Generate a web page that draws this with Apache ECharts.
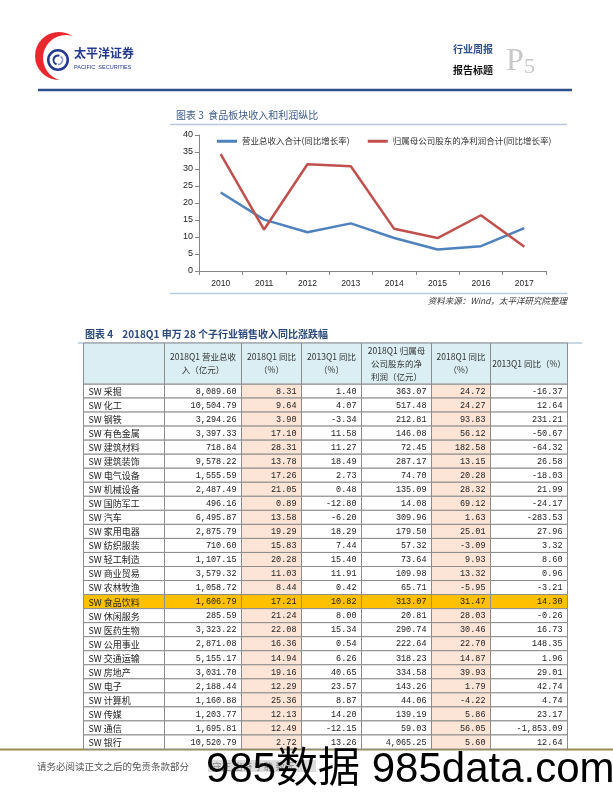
<!DOCTYPE html>
<html><head><meta charset="utf-8">
<script src="https://cdn.jsdelivr.net/npm/echarts@6/dist/echarts.min.js"></script>
<style>html,body{margin:0;padding:0;background:#fff}#c{width:613px;height:793px}</style>
</head><body><div id="c"></div><script>
// ---- line chart data ----
const years = ['2010','2011','2012','2013','2014','2015','2016','2017'];
const revenueGrowth = [23.1, 15.1, 11.4, 14.0, 9.7, 6.3, 7.3, 12.6];
const profitGrowth = [34.4, 12.2, 31.4, 30.8, 12.4, 9.7, 16.4, 7.1];
const lineNames = ['营业总收入合计(同比增长率)', '归属母公司股东的净利润合计(同比增长率)'];

// ---- table data ----
const headerLabels = ['', '2018Q1 营业总收\n入（亿元）', '2018Q1 同比\n（%）', '2013Q1 同比\n（%）', '2018Q1 归属母\n公司股东的净\n利润（亿元）', '2018Q1 同比\n（%）', '2013Q1 同比（%）'];
const industries = ['SW 采掘','SW 化工','SW 钢铁','SW 有色金属','SW 建筑材料','SW 建筑装饰','SW 电气设备','SW 机械设备','SW 国防军工','SW 汽车','SW 家用电器','SW 纺织服装','SW 轻工制造','SW 商业贸易','SW 农林牧渔','SW 食品饮料','SW 休闲服务','SW 医药生物','SW 公用事业','SW 交通运输','SW 房地产','SW 电子','SW 计算机','SW 传媒','SW 通信','SW 银行'];
const revenue18 = [8089.60, 10504.79, 3294.26, 3397.33, 718.84, 9578.22, 1555.59, 2487.49, 496.16, 6495.87, 2875.79, 710.60, 1107.15, 3579.32, 1058.72, 1606.79, 285.59, 3323.22, 2871.08, 5155.17, 3031.70, 2188.44, 1160.88, 1203.77, 1695.81, 10520.79];
const revenueYoY18 = [8.31, 9.64, 3.90, 17.10, 28.31, 13.78, 17.26, 21.05, 0.89, 13.58, 19.29, 15.83, 20.28, 11.03, 8.44, 17.21, 21.24, 22.08, 16.36, 14.94, 19.16, 12.29, 25.36, 12.13, 12.49, 2.72];
const revenueYoY13 = [1.40, 4.07, -3.34, 11.58, 11.27, 18.49, 2.73, 0.48, -12.80, -6.20, 18.29, 7.44, 15.40, 11.91, 0.42, 10.82, 8.00, 15.34, 0.54, 6.26, 40.65, 23.57, 8.87, 14.20, -12.15, 13.26];
const netProfit18 = [363.07, 517.48, 212.81, 146.08, 72.45, 287.17, 74.70, 135.09, 14.08, 309.96, 179.50, 57.32, 73.64, 109.98, 65.71, 313.07, 20.81, 290.74, 222.64, 318.23, 334.58, 143.26, 44.06, 139.19, 59.03, 4065.25];
const profitYoY18 = [24.72, 24.27, 93.83, 56.12, 182.58, 13.15, 20.28, 28.32, 69.12, 1.63, 25.01, -3.09, 9.93, 13.32, -5.95, 31.47, 28.03, 30.46, 22.70, 14.87, 39.93, 1.79, -4.22, 5.86, 56.05, 5.60];
const profitYoY13 = [-16.37, 12.64, 231.21, -50.67, -64.32, 26.58, -18.03, 21.99, -24.17, -283.53, 27.96, 3.32, 8.60, 0.96, -3.21, 14.30, -0.26, 16.73, 148.35, 1.96, 29.01, 42.74, 4.74, 23.17, -1853.09, 12.64];
const highlightRow = 'SW 食品饮料';

// ---- layout ----
const colWidths = [81, 77, 60, 60, 70, 59, 77];
const colStarts = colWidths.reduce((a, w, i) => { a.push(i === 0 ? 0 : a[i-1] + colWidths[i-1]); return a; }, []);
const tableWidth = colWidths.reduce((s, w) => s + w, 0);
const columns = [industries, revenue18, revenueYoY18, revenueYoY13, netProfit18, profitYoY18, profitYoY13];
const fmt = v => v.toLocaleString('en-US', {minimumFractionDigits: 2, maximumFractionDigits: 2});
const hiIdx = industries.indexOf(highlightRow);
const CJK = "'Noto Sans CJK SC'";

const bodyData = [];
industries.forEach((n, r) => colWidths.forEach((w, c) => bodyData.push([c, r])));
const headData = headerLabels.map((t, c) => [c, 0]);

function txt(text, x, y, opt) {
  opt = opt || {};
  return { type: 'text', x: x, y: y, z: opt.z || 10,
    style: { text: text, fill: opt.fill || '#333', font: opt.font || ('10px ' + CJK),
      align: opt.align || 'left', textAlign: opt.align || 'left',
      verticalAlign: opt.va || 'middle', textVerticalAlign: opt.va || 'middle' } };
}

const chart = echarts.init(document.getElementById('c'), null, {renderer: 'canvas'});
chart.setOption({
  animation: false,
  backgroundColor: '#fff',
  grid: [
    { left: 199, right: 67, top: 135, bottom: 522 },
    { left: 83.5, top: 384, width: tableWidth, height: 365 },
    { left: 83.5, top: 343, width: tableWidth, height: 41 }
  ],
  legend: {
    data: lineNames, left: 212, top: 132, icon: 'rect', itemWidth: 20, itemHeight: 3, itemGap: 18,
    textStyle: { fontSize: 8.5, fontFamily: CJK, color: '#333' }
  },
  xAxis: [
    { gridIndex: 0, type: 'category', data: years, boundaryGap: true,
      axisLine: { lineStyle: { color: '#868686' } },
      axisTick: { show: true, length: 4, interval: 0, lineStyle: { color: '#868686' } },
      axisLabel: { fontSize: 8.5, fontFamily: 'Liberation Sans', color: '#222', margin: 8 } },
    { gridIndex: 1, type: 'value', min: 0, max: tableWidth, show: false },
    { gridIndex: 2, type: 'value', min: 0, max: tableWidth, show: false }
  ],
  yAxis: [
    { gridIndex: 0, type: 'value', min: 0, max: 40, interval: 5,
      axisLine: { show: true, lineStyle: { color: '#868686' } },
      axisTick: { show: true, length: 4, lineStyle: { color: '#868686' } },
      splitLine: { show: false },
      axisLabel: { fontSize: 9, fontFamily: 'Liberation Sans', color: '#222', margin: 6 } },
    { gridIndex: 1, type: 'category', data: industries, inverse: true, show: false },
    { gridIndex: 2, type: 'category', data: ['header'], show: false }
  ],
  series: [
    { name: lineNames[0], type: 'line', xAxisIndex: 0, yAxisIndex: 0, data: revenueGrowth,
      showSymbol: false, symbol: 'none', color: '#4F81BD', lineStyle: { width: 2.5, color: '#4F81BD' } },
    { name: lineNames[1], type: 'line', xAxisIndex: 0, yAxisIndex: 0, data: profitGrowth,
      showSymbol: false, symbol: 'none', color: '#C0504D', lineStyle: { width: 2.5, color: '#C0504D' } },
    { type: 'custom', xAxisIndex: 1, yAxisIndex: 1, data: bodyData,
      renderItem: function (params, api) {
        const c = api.value(0), r = api.value(1);
        const p = api.coord([colStarts[c], r]);
        const w = api.size([colWidths[c], 0])[0];
        const h = api.size([0, 1])[1];
        const fill = r === hiIdx ? '#FFC000' : ((c === 2 || c === 5) ? '#FCE4D6' : '#ffffff');
        const v = columns[c][r];
        const isName = c === 0;
        return { type: 'group', children: [
          { type: 'rect', shape: { x: p[0], y: p[1] - h / 2, width: w, height: h },
            style: { fill: fill, stroke: '#8c8c8c', lineWidth: 1 } },
          { type: 'text', z2: 5, style: { text: isName ? v : fmt(v),
              x: isName ? p[0] + 5 : p[0] + w - 5, y: p[1] + 0.5,
              align: isName ? 'left' : 'right', textAlign: isName ? 'left' : 'right',
              verticalAlign: 'middle', textVerticalAlign: 'middle',
              fill: '#222', font: isName ? ('9px ' + CJK) : "8.5px 'Liberation Mono'" } }
        ] };
      } },
    { type: 'custom', xAxisIndex: 2, yAxisIndex: 2, data: headData,
      renderItem: function (params, api) {
        const c = api.value(0);
        const p = api.coord([colStarts[c], 0]);
        const w = api.size([colWidths[c], 0])[0];
        const h = api.size([0, 1])[1];
        return { type: 'group', children: [
          { type: 'rect', shape: { x: p[0], y: p[1] - h / 2, width: w, height: h },
            style: { fill: '#DAEEF3', stroke: '#8c8c8c', lineWidth: 1 } },
          { type: 'text', z2: 5, style: { text: headerLabels[c], x: p[0] + w / 2, y: p[1],
              align: 'center', textAlign: 'center', verticalAlign: 'middle', textVerticalAlign: 'middle',
              lineHeight: 13, fill: '#333', font: '8.5px ' + CJK } }
        ] };
      } }
  ],
  graphic: [
    // header logo
    { type: 'circle', z: 1, shape: { cx: 59, cy: 56, r: 24 }, style: { fill: '#E8282E' } },
    { type: 'circle', z: 2, shape: { cx: 66, cy: 58, r: 23 }, style: { fill: '#ffffff' } },
    { type: 'ring', z: 3, shape: { cx: 58, cy: 60, r: 11, r0: 8.5 }, style: { fill: '#23398E' } },
    { type: 'arc', z: 3, shape: { cx: 58, cy: 60, r: 4.5, startAngle: Math.PI * 0.6, endAngle: Math.PI * 1.6 }, style: { fill: 'none', stroke: '#23398E', lineWidth: 2 } },
    { type: 'arc', z: 3, shape: { cx: 58, cy: 60, r: 4.5, startAngle: Math.PI * 1.7, endAngle: Math.PI * 2.5 }, style: { fill: 'none', stroke: '#7d8fc7', lineWidth: 1.5 } },
    txt('太平洋证券', 74, 53, { font: "bold 12px " + CJK, fill: '#23398E' }),
    txt('PACIFIC  SECURITIES', 74, 67, { font: "5.5px 'Liberation Sans'", fill: '#23398E' }),
    txt('行业周报', 453, 49, { font: "bold 10px " + CJK, fill: '#2F4F8F' }),
    txt('报告标题', 453, 70, { font: "bold 10px " + CJK, fill: '#111' }),
    txt('P', 506, 78, { font: "32px 'Liberation Serif'", fill: '#c8c8c8', va: 'bottom' }),
    txt('5', 524, 78, { font: "22px 'Liberation Serif'", fill: '#c8c8c8', va: 'bottom' }),
    { type: 'line', shape: { x1: 38, y1: 90, x2: 572, y2: 90 }, style: { stroke: '#2E4F8A', lineWidth: 2.5 } },
    // chart 3 title
    txt('图表 3  食品板块收入和利润纵比', 176, 115, { font: '10px ' + CJK, fill: '#3d5c8e' }),
    { type: 'line', shape: { x1: 170, y1: 124.5, x2: 567, y2: 124.5 }, style: { stroke: '#B9CADF', lineWidth: 1.5 } },
    { type: 'line', shape: { x1: 170, y1: 293.5, x2: 567, y2: 293.5 }, style: { stroke: '#B9CADF', lineWidth: 1.5 } },
    txt('资料来源：Wind，太平洋研究院整理', 567, 301, { font: 'italic 8.5px ' + CJK, fill: '#333', align: 'right' }),
    // table title
    txt('图表 4    2018Q1 申万 28 个子行业销售收入同比涨跌幅', 85, 334, { font: 'bold 10px ' + CJK, fill: '#2a4a7e' }),
    { type: 'line', shape: { x1: 78, y1: 343, x2: 582, y2: 343 }, style: { stroke: '#B9CADF', lineWidth: 1.5 }, z: -1 },
    // footer
    { type: 'line', shape: { x1: 0, y1: 749.5, x2: 613, y2: 749.5 }, style: { stroke: '#9B8B4F', lineWidth: 2 } },
    txt('请务必阅读正文之后的免责条款部分', 37, 766, { font: '9.5px ' + CJK, fill: '#555' }),
    { type: 'rect', shape: { x: 208, y: 760, width: 108, height: 12 }, style: { fill: '#dcdcdc' } },
    txt('守正 出奇 宁静 致远', 212, 766, { font: '9.5px ' + CJK, fill: '#888' }),
    txt('985数据 985data.com', 206, 770, { font: "42px 'Liberation Sans', " + CJK, fill: '#000', z: 20 })
  ]
});
</script></body></html>
